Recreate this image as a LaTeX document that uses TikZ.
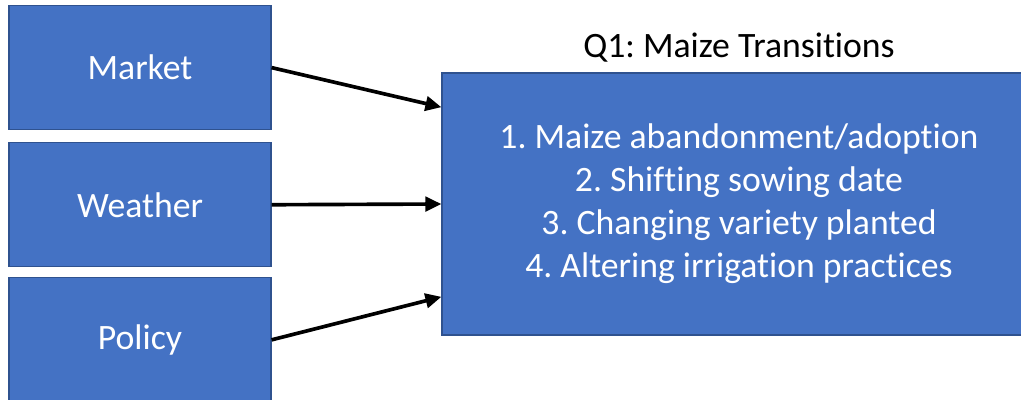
\documentclass[tikz,border=0pt]{standalone}
\usepackage{fontspec}
\setmainfont{Carlito}[Ligatures=NoCommon]
\usetikzlibrary{positioning,arrows.meta,calc}
\definecolor{qBlue}{RGB}{68,114,196}
\definecolor{qEdge}{RGB}{47,82,143}
\definecolor{qDark}{RGB}{0,0,0}
\frenchspacing
\tikzset{
    base/.style={font=\fontsize{25.4}{30.6}\selectfont, align=center},
    driver/.style={base, rectangle, draw=qEdge, line width=0.8pt, fill=qBlue,
                   text=white, minimum width=6.55cm, minimum height=3.1cm},
    outcome/.style={base, rectangle, draw=qEdge, line width=0.8pt, fill=qBlue,
                    text=white, minimum width=14.85cm, minimum height=6.55cm},
    flow/.style={-{Triangle[length=0.4cm,width=0.36cm]}, line width=2.6pt, color=qDark}
}
\begin{document}
\begin{tikzpicture}
  \useasboundingbox (0,0) rectangle (25.525,-9.975);

  % drivers
  \node[driver] (market) at (3.5,-1.69) {Market};
  \node[driver, below=0.3cm of market] (weather) {Weather};
  \node[driver, below=0.3cm of weather, minimum height=3.1cm, yshift=0.05cm] (policy) {Policy};

  % transitions box
  \node[outcome] (trans) at (18.475,-5.1) {%
    1. Maize abandonment/adoption\\
    2. Shifting sowing date\\
    3. Changing variety planted\\
    4. Altering irrigation practices};
  \node[base, text=black, above=0.12cm of trans] (title) {Q1: Maize Transitions};

  % arrow ends
  \coordinate (inTop) at ([yshift=2.42cm]trans.west);
  \coordinate (inLow) at ([yshift=-2.32cm]trans.west);

  \draw[flow] (market.east) -- (inTop);
  \draw[flow] (weather.east) -- (trans.west);
  \draw[flow] (policy.east) -- (inLow);
\end{tikzpicture}
\end{document}
